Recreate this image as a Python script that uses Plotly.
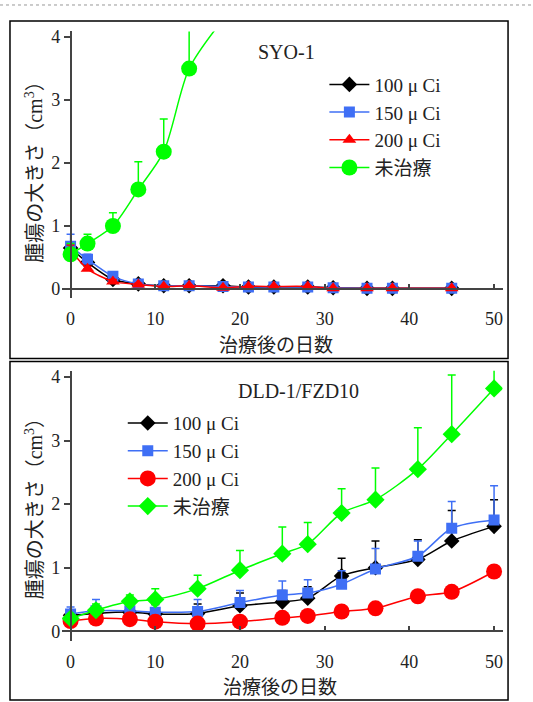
import plotly.graph_objects as go

# ---------------- data: SYO-1 (top) ----------------
days_a = [0, 2, 5, 8, 11, 14, 18, 21, 24, 28, 31, 35, 38, 45]
a_100 = [0.65, 0.42, 0.15, 0.08, 0.05, 0.05, 0.05, 0.03, 0.03, 0.03, 0.02, 0.01, 0.01, 0.01]
a_100_err = [0.10, 0.06, 0.05, 0.02, 0.01, 0.01, 0.01, 0.01, 0.01, 0.01, 0.01, 0.01, 0.01, 0.01]
a_150 = [0.68, 0.47, 0.20, 0.08, 0.05, 0.05, 0.04, 0.03, 0.03, 0.03, 0.02, 0.01, 0.01, 0.01]
a_150_err = [0.19, 0.08, 0.06, 0.02, 0.01, 0.01, 0.01, 0.01, 0.01, 0.01, 0.01, 0.01, 0.01, 0.01]
a_200 = [0.62, 0.32, 0.12, 0.07, 0.04, 0.05, 0.02, 0.04, 0.04, 0.04, 0.01, 0.01, 0.01, 0.01]
a_200_err = [0.08, 0.04, 0.03, 0.02, 0.01, 0.01, 0.01, 0.01, 0.01, 0.01, 0.01, 0.01, 0.01, 0.01]
days_a_ctrl = [0, 2, 5, 8, 11, 14, 18]
a_ctrl = [0.55, 0.72, 1.00, 1.58, 2.18, 3.50, 4.28]
a_ctrl_err = [0.17, 0.15, 0.21, 0.44, 0.52, 1.30, 1.00]

# ---------------- data: DLD-1/FZD10 (bottom) ----------------
days_b = [0, 3, 7, 10, 15, 20, 25, 28, 32, 36, 41, 45, 50]
b_100 = [0.25, 0.28, 0.30, 0.27, 0.28, 0.40, 0.46, 0.52, 0.87, 1.00, 1.13, 1.42, 1.65]
b_100_err = [0.08, 0.12, 0.10, 0.15, 0.15, 0.20, 0.18, 0.18, 0.28, 0.42, 0.31, 0.48, 0.42]
b_150 = [0.27, 0.32, 0.32, 0.30, 0.31, 0.45, 0.57, 0.60, 0.74, 0.98, 1.18, 1.62, 1.75]
b_150_err = [0.11, 0.18, 0.13, 0.12, 0.19, 0.19, 0.22, 0.21, 0.21, 0.32, 0.24, 0.42, 0.54]
b_200 = [0.16, 0.20, 0.19, 0.15, 0.12, 0.15, 0.21, 0.24, 0.31, 0.36, 0.55, 0.62, 0.94]
b_ctrl = [0.20, 0.33, 0.47, 0.50, 0.67, 0.96, 1.22, 1.37, 1.86, 2.07, 2.55, 3.10, 3.82]
b_ctrl_err = [0.05, 0.10, 0.10, 0.17, 0.21, 0.31, 0.42, 0.34, 0.38, 0.50, 0.65, 0.93, 0.50]

series_names = ["100 μ Ci", "150 μ Ci", "200 μ Ci", "未治療"]
title_a = "SYO-1"
title_b = "DLD-1/FZD10"
x_title = "治療後の日数"
y_title = "腫瘍の大きさ（cm<sup>3</sup>）"
x_ticks = [0, 10, 20, 30, 40, 50]
y_ticks = [0, 1, 2, 3, 4]

# ---------------- styling ----------------
W, H = 533, 702
BLACK = "#000000"
BLUE = "#3F6FF5"
RED = "#FF0000"
GREEN = "#00FF00"
LAT = "Liberation Serif, Noto Sans CJK JP"
CJK = "Noto Sans CJK JP"
TXT = "#222222"

def px_x(p):
    return p / W

def px_y(p):
    return 1 - p / H

# pixel layout
x0_px = 70.7          # x = 0
ppd = (495.0 - 70.7) / 50.0
xr = [-1.0, 51.0]
xl_px = x0_px + xr[0] * ppd
xh_px = x0_px + xr[1] * ppd

# top panel
ya0_px, ya_scale = 287.0, (287.0 - 33.3) / 4
yra = [-0.15, 4.09]
# bottom panel
yb0_px, yb_scale = 631.7, (631.7 - 375.7) / 4
yrb = [-0.15, 4.10]

fig = go.Figure()

def add(xs, ys, err, name, color, symbol, size, xa, ya, leg, group):
    ey = None
    if err is not None:
        ey = dict(type="data", symmetric=False, array=err,
                  arrayminus=[0] * len(err), color=color, thickness=1.5, width=4)
    fig.add_trace(go.Scatter(
        x=xs, y=ys, name=name, mode="lines+markers",
        line=dict(color=color, width=1.5, shape="spline", smoothing=0.8),
        marker=dict(color=color, symbol=symbol, size=size),
        error_y=ey, xaxis=xa, yaxis=ya, legend=leg, legendgroup=group,
        cliponaxis=True,
    ))

add(days_a, a_100, a_100_err, series_names[0], BLACK, "diamond", 12, "x", "y", "legend", "a1")
add(days_a, a_150, a_150_err, series_names[1], BLUE, "square", 11, "x", "y", "legend", "a2")
add(days_a, a_200, a_200_err, series_names[2], RED, "triangle-up", 12, "x", "y", "legend", "a3")
add(days_a_ctrl, a_ctrl, a_ctrl_err, series_names[3], GREEN, "circle", 16, "x", "y", "legend", "a4")

add(days_b, b_100, b_100_err, series_names[0], BLACK, "diamond", 12, "x2", "y2", "legend2", "b1")
add(days_b, b_150, b_150_err, series_names[1], BLUE, "square", 11, "x2", "y2", "legend2", "b2")
add(days_b, b_200, None, series_names[2], RED, "circle", 16, "x2", "y2", "legend2", "b3")
add(days_b, b_ctrl, b_ctrl_err, series_names[3], GREEN, "diamond", 14, "x2", "y2", "legend2", "b4")

xdom = [px_x(xl_px), px_x(xh_px)]
ya_dom = [px_y(ya0_px - yra[0] * ya_scale), px_y(ya0_px - yra[1] * ya_scale)]
yb_dom = [px_y(yb0_px - yrb[0] * yb_scale), px_y(yb0_px - yrb[1] * yb_scale)]

axis_common = dict(showgrid=False, zeroline=False, showline=True, linecolor="#444444",
                   linewidth=1.5, tickcolor="#444444", tickwidth=1.5,
                   tickfont=dict(family=LAT, size=18, color=TXT))

xaxis_common = dict(axis_common, range=xr, tickvals=x_ticks, ticks="inside", ticklen=4,
                    anchor="free", side="bottom", ticklabelstandoff=14)
yaxis_common = dict(axis_common, tickvals=y_ticks, ticks="outside", ticklen=6,
                    anchor="free", position=px_x(x0_px))

legend_common = dict(font=dict(family=LAT, size=19, color=TXT), bgcolor="rgba(0,0,0,0)",
                     tracegroupgap=0, xanchor="left", yanchor="top", itemwidth=40)

fig.update_layout(
    width=W, height=H, margin=dict(l=0, r=0, t=0, b=0),
    paper_bgcolor="white", plot_bgcolor="white",
    xaxis=dict(xaxis_common, domain=xdom, position=px_y(ya0_px)),
    yaxis=dict(yaxis_common, domain=ya_dom, range=yra),
    xaxis2=dict(xaxis_common, domain=xdom, position=px_y(yb0_px)),
    yaxis2=dict(yaxis_common, domain=yb_dom, range=yrb),
    legend=dict(legend_common, x=px_x(325), y=px_y(62)),
    legend2=dict(legend_common, x=px_x(123), y=px_y(403)),
    showlegend=True,
)

ann = []
ann.append(dict(text=title_a, x=px_x(287), y=px_y(48), font=dict(family=LAT, size=20, color=TXT)))
ann.append(dict(text=title_b, x=px_x(299), y=px_y(390), font=dict(family=LAT, size=20, color=TXT)))
ann.append(dict(text=x_title, x=px_x(277), y=px_y(342), font=dict(family=CJK, size=19, color=TXT)))
ann.append(dict(text=x_title, x=px_x(281), y=px_y(686), font=dict(family=CJK, size=19, color=TXT)))
ann.append(dict(text=y_title, x=px_x(34), y=px_y(164), textangle=-90, font=dict(family=LAT, size=20, color=TXT)))
ann.append(dict(text=y_title, x=px_x(34), y=px_y(503), textangle=-90, font=dict(family=LAT, size=20, color=TXT)))
for a in ann:
    a.update(xref="paper", yref="paper", showarrow=False, xanchor="center", yanchor="middle")
fig.update_layout(annotations=ann)

fig.update_layout(shapes=[
    dict(type="rect", xref="paper", yref="paper", x0=px_x(10), x1=px_x(509), y0=px_y(357), y1=px_y(17),
         line=dict(color="black", width=1.5)),
    dict(type="rect", xref="paper", yref="paper", x0=px_x(10), x1=px_x(509), y0=px_y(701), y1=px_y(360),
         line=dict(color="black", width=1.5)),
    dict(type="line", xref="paper", yref="paper", x0=0, x1=1, y0=px_y(1), y1=px_y(1),
         line=dict(color="#999999", width=1, dash="dot")),
])

fig.write_html("out.html", config={"displayModeBar": False},
               post_script="document.body.style.margin='0';document.body.style.overflow='hidden';")
